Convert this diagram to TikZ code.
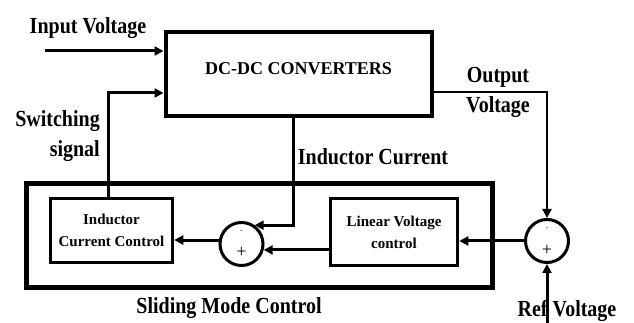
\documentclass[tikz,border=0pt]{standalone}
\usepackage{fontspec}
\setmainfont{Liberation Serif}
\usetikzlibrary{arrows.meta,positioning,calc}

\begin{document}
\begin{tikzpicture}[
    x=10pt, y=10pt,
    block/.style={
        draw=black,
        line width=3.5pt,
        align=center,
        font=\fontsize{15}{22}\selectfont\bfseries,
        inner sep=0pt
    },
    sumnode/.style={circle, draw=black, line width=3pt, minimum size=43pt, inner sep=0pt},
    lbl/.style={font=\fontsize{20}{26}\selectfont\bfseries, inner sep=0pt, yscale=1.15, transform shape},
    sign/.style={font=\fontsize{18}{18}\selectfont, inner sep=0pt},
    conn/.style={line width=3pt, -{Triangle[length=9pt,width=9pt]}}
]
\useasboundingbox (0,0) rectangle (63.4,32.3);

% Converter block
\node[block, line width=4pt, minimum width=266pt, minimum height=84pt,
      font=\fontsize{18}{20}\selectfont\bfseries, text height=12pt, text depth=12pt]
      (conv) at (29.85,24.85) {DC-DC CONVERTERS};

% Sliding mode control frame
\node[block, line width=5pt, minimum width=466pt, minimum height=104pt] (smc) at (25.9,8.75) {};
\node[lbl] (smclbl) at (22.9,1.45) {Sliding Mode Control};

% Inner blocks
\node[block, minimum width=122pt, minimum height=64pt] (icc) at (11.15,9.25) {Inductor\\Current Control};
\node[block, minimum width=127pt, minimum height=67pt] (lvc) at (39.4,9.1) {Linear Voltage\\control};

% Summing junctions
\node[sumnode] (sumL) at (24.15,7.9) {};
\node[sign] (sumLp) at ([yshift=-8pt]sumL.center) {+};
\node[sign, font=\scriptsize] (sumLm) at ([yshift=12pt]sumL.center) {-};
\node[sumnode] (sumR) at (54.7,8.2) {};
\node[sign] (sumRp) at ([yshift=-9pt]sumR.center) {+};
\node[sign, font=\scriptsize] (sumRm) at ([yshift=12pt]sumR.center) {-};

% Labels
\node[lbl] (inlbl) at (8.8,29.5) {Input Voltage};
\node[lbl, align=right, anchor=east] (swlbl) at (10.0,18.7) {Switching\\signal};
\node[lbl, align=center] (outlbl) at (49.8,23.05) {Output\\Voltage};
\node[lbl] (indlbl) at (37.3,16.6) {Inductor Current};
\node[lbl] (reflbl) at (56.7,1.2) {Ref Voltage};

% Connectors
\coordinate (inA) at (4.5,27.2);
\draw[conn] (inA) -- (inA -| conv.west);

\coordinate (swT) at (10.8,23.0);
\draw[conn] (icc.north -| swT) -- (swT) -- (swT -| conv.west);

\coordinate (outC) at (54.7,23.1);
\draw[line width=2.5pt, -{Triangle[length=9pt,width=9pt]}] (outC -| conv.east) -- (outC) -- (sumR.north);

\draw[conn] ([xshift=-5pt]conv.south) |- (sumL.55);
\draw[conn] (sumR.west) -- (sumR.west -| lvc.east);
\draw[conn] (lvc.west |- sumL.-15) -- (sumL.-15);
\draw[conn] (sumL.170) -- (sumL.170 -| icc.east);

\coordinate (refB) at (54.7,0);
\draw[conn] (refB) -- (sumR.south);

\end{tikzpicture}
\end{document}
